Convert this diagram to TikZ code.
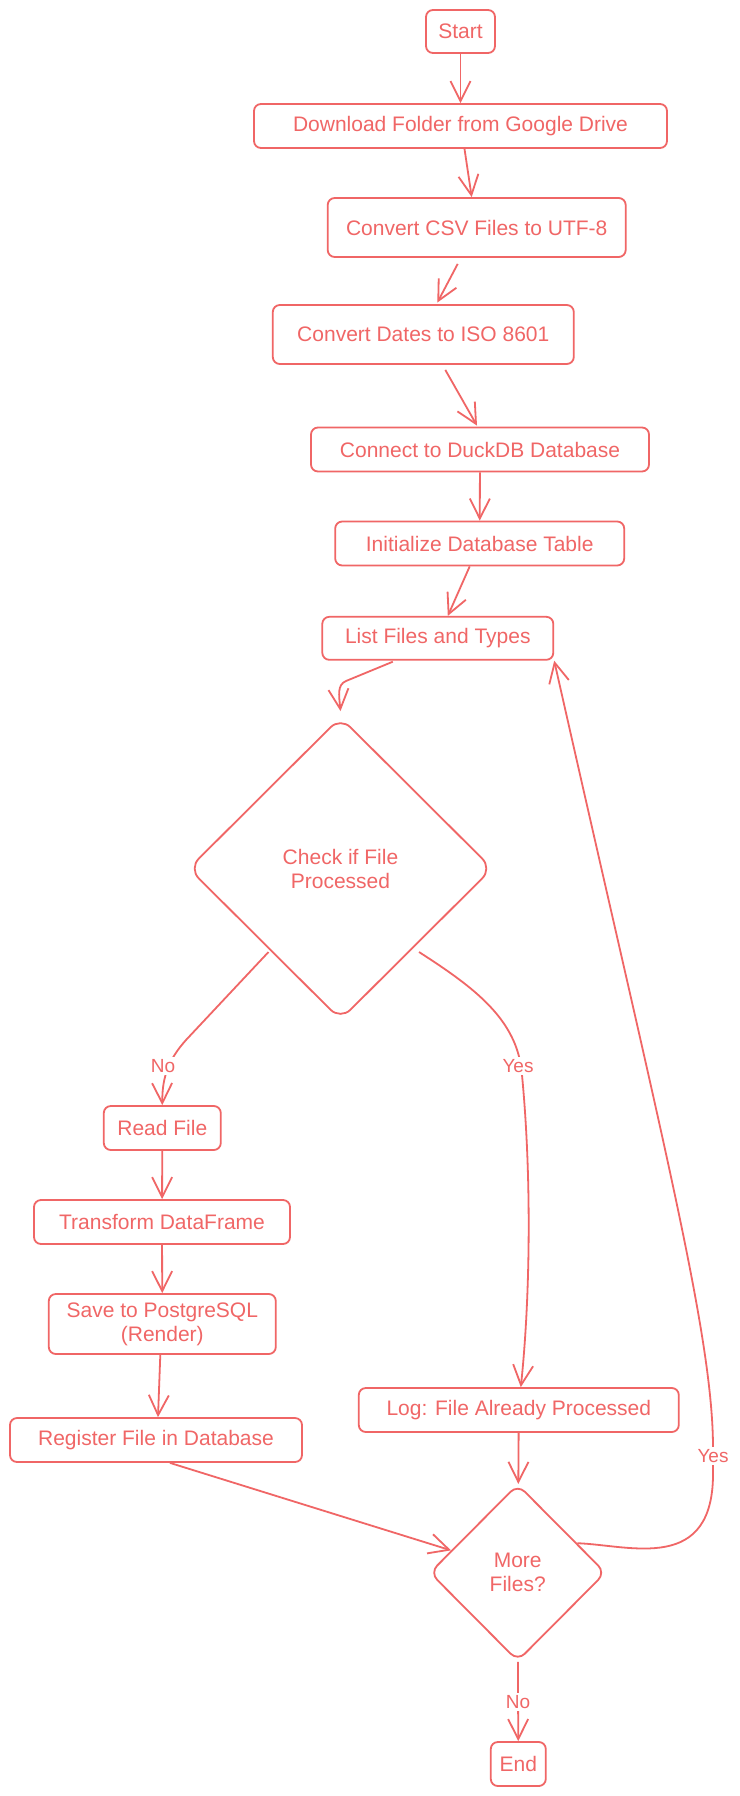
\documentclass[tikz,border=0pt]{standalone}
\usepackage{fontspec}
\setmainfont{Liberation Sans}
\usetikzlibrary{arrows.meta,shapes.geometric,calc}
\definecolor{ink}{RGB}{240,102,102}
\begin{document}
\begin{tikzpicture}[x=1pt,y=-1pt,
  every node/.style={text=ink, font=\fontsize{21}{24}\selectfont},
  box/.style={draw=ink, line width=1.8pt, rounded corners=7pt, inner sep=0pt, align=center, fill=white},
  dec/.style={draw=ink, line width=1.8pt, diamond, aspect=1, rounded corners=14pt, inner sep=0pt, align=center},
  conn/.style={draw=ink, line width=1.8pt, -{Straight Barb[length=20pt,width=20pt]}},
  lbl/.style={fill=white, inner sep=2pt, font=\fontsize{19}{22}\selectfont}
]
\useasboundingbox (0,0) rectangle (739,1796);
\fill[white] (0,0) rectangle (739,1796);

\node[box, minimum width=69pt, minimum height=43pt] (start) at (460.5,31.5) {Start};
\node[box, minimum width=413pt, minimum height=44pt] (dl) at (460.5,126) {Download Folder from Google Drive};
\node[box, minimum width=298pt, minimum height=59pt] (csv) at (476.7,227.5) {Convert CSV Files to UTF-8};
\node[box, minimum width=301pt, minimum height=59pt] (dates) at (423.3,334.5) {Convert Dates to ISO 8601};
\node[box, minimum width=338pt, minimum height=44pt] (duck) at (480,449.5) {Connect to DuckDB Database};
\node[box, minimum width=289pt, minimum height=44pt] (init) at (479.7,543.5) {Initialize Database Table};
\node[box, minimum width=231pt, minimum height=43pt] (list) at (437.8,638.3) {List Files and Types};
\node[dec, minimum width=304pt, minimum height=303pt] (check) at (340.5,868.5) {Check if File\\Processed};
\node[box, minimum width=117pt, minimum height=44pt] (read) at (162.3,1128) {Read File};
\node[box, minimum width=256pt, minimum height=44pt] (trans) at (162,1222) {Transform DataFrame};
\node[box, minimum width=227pt, minimum height=60pt] (save) at (162.3,1324) {Save to PostgreSQL\\(Render)};
\node[box, minimum width=292pt, minimum height=44pt] (reg) at (156,1440) {Register File in Database};
\node[box, minimum width=320pt, minimum height=44pt] (log) at (518.8,1410) {Log: File Already Processed};
\node[dec, rounded corners=10pt, minimum width=176pt, minimum height=177pt] (more) at (517.7,1572.7) {More\\Files?};
\node[box, minimum width=55pt, minimum height=44pt] (end) at (518.3,1764) {End};

\draw[conn] (start) -- (dl);
\draw[conn] ($(dl.south)+(4,0)$) -- ($(csv.north)+(-5,0)$);
\draw[conn] ($(csv.south)+(-19,6)$) -- ($(dates.north)+(14,-1.5)$);
\draw[conn] ($(dates.south)+(22,5)$) -- ($(duck.north)+(-3,-1)$);
\draw[conn] (duck) -- (init);
\draw[conn] ($(init.south)+(-10,0)$) -- ($(list.north)+(10,0)$);
\draw[conn] ($(list.south)+(-45,1)$) -- (346,681) .. controls (337,685) and (339,695) .. ($(check.north)+(0,-5)$);

\draw[conn] ($(check.center)+(-72,83.5)$) -- (186,1040) .. controls (170,1058) and (162,1075) .. (read.north);
\node[lbl] (lno1) at (163,1066) {No};
\draw[conn] ($(check.center)+(78.5,83.5)$) .. controls (475,988) and (518,1020) .. (522,1075) .. controls (532,1180) and (530,1300) .. ($(log.north)+(2,0)$);
\node[lbl] (lyes1) at (518,1066) {Yes};

\draw[conn] (read) -- (trans);
\draw[conn] (trans) -- (save);
\draw[conn] ($(save.south)+(-2,0)$) -- ($(reg.north)+(2,0)$);
\draw[conn] (log) -- (more);
\draw[conn] ($(reg.south)+(14,0)$) -- ($(more.west)!0.25!(more.north)$);
\draw[conn] (more) -- (end);
\node[lbl] (lno2) at (518,1702) {No};

\draw[conn] ($(more.east)!0.33!(more.north)$) .. controls (630,1545) and (715,1575) .. (713,1470) -- (713,1445) .. controls (712,1330) and (660,1130) .. (list.south east);
\node[lbl] (lyes2) at (713,1456) {Yes};
\end{tikzpicture}
\end{document}
